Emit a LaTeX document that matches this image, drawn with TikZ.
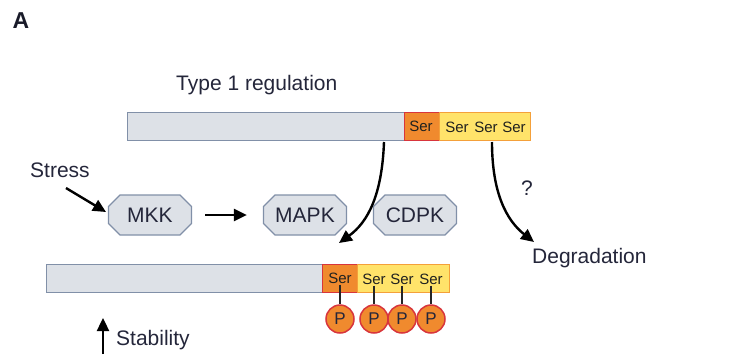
\documentclass[tikz,border=0pt]{standalone}
\usepackage{fontspec}
\setmainfont{Liberation Sans}
\usetikzlibrary{shapes.misc,arrows.meta}
\definecolor{txt}{HTML}{24263A}
\definecolor{gfill}{HTML}{DDE1E7}
\definecolor{gline}{HTML}{8190A8}
\definecolor{ofill}{HTML}{F08A2E}
\definecolor{oline}{HTML}{D8353C}
\definecolor{yfill}{HTML}{FFE36A}
\definecolor{yline}{HTML}{F4A03A}
\tikzset{
  lbl/.style={font=\fontsize{21}{24}\selectfont, text=txt, inner sep=0pt},
  greybar/.style={draw=gline, fill=gfill, line width=1.2pt, anchor=north west, inner sep=0pt, minimum height=28pt},
  orangebar/.style={draw=oline, fill=ofill, line width=1.2pt, anchor=north west, inner sep=0pt, minimum height=28pt, minimum width=35pt},
  yellowbar/.style={draw=yline, fill=yfill, line width=1.2pt, anchor=north west, inner sep=0pt, minimum height=28pt},
  ser/.style={font=\fontsize{15}{16}\selectfont, text=txt!60!black!90!olive, inner sep=1pt},
  kin/.style={chamfered rectangle, chamfered rectangle xsep=8pt, draw=gline, fill=gfill, line width=1.2pt,
              minimum width=83pt, minimum height=40pt, inner sep=2pt, font=\fontsize{21}{24}\selectfont, text=txt},
  pcirc/.style={circle, draw=oline, fill=ofill, line width=1.5pt, minimum size=28pt, inner sep=0pt,
                font=\fontsize{17}{18}\selectfont, text=txt},
  arr/.style={line width=2.4pt, -{Triangle[length=13pt,width=12pt]}},
}
\begin{document}
\begin{tikzpicture}[x=1pt,y=-1pt]
\useasboundingbox (0,0) rectangle (740,360);
\node[font=\bfseries\fontsize{23}{26}\selectfont, text=txt!70!black, inner sep=0pt] (A) at (21,21) {A};
\node[lbl, anchor=west] (t1) at (176,85) {Type 1 regulation};
% top bar
\node[greybar, minimum width=277pt] (g1) at (127,112) {};
\node[orangebar] (o1) at (404,112) {};
\node[yellowbar, minimum width=91pt] (y1) at (439,112) {};
\node[ser] (ts0) at (421,126) {Ser};
\node[ser] (ts1) at (457,127) {Ser};
\node[ser] (ts2) at (486,127) {Ser};
\node[ser] (ts3) at (514,127) {Ser};
% bottom bar
\node[greybar, minimum width=277pt] (g2) at (46,264) {};
\node[orangebar] (o2) at (322,264) {};
\node[yellowbar, minimum width=92pt] (y2) at (357,264) {};
\node[ser] (bs0) at (340,278) {Ser};
\node[ser] (bs1) at (374,279) {Ser};
\node[ser] (bs2) at (402,279) {Ser};
\node[ser] (bs3) at (431,279) {Ser};
\node[pcirc] (p0) at (340,319) {P};
\node[pcirc] (p1) at (374,319) {P};
\node[pcirc] (p2) at (402,319) {P};
\node[pcirc] (p3) at (431,319) {P};
\foreach \i in {0,1,2,3} \draw[line width=1.4pt, black!85] (bs\i.south) -- (p\i.north);
% kinases
\node[kin] (mkk) at (150,215) {MKK};
\node[kin] (mapk) at (305,215) {MAPK};
\node[kin] (cdpk) at (415,215) {CDPK};
\path (mkk.east) ++(13,0) coordinate (m1) (mapk.west) ++(-16,0) coordinate (m2);
\draw[arr] (m1) -- (m2);
\node[lbl, anchor=west] (stress) at (30,170) {Stress};
\coordinate (s1) at (66,188);
\coordinate (s2) at (106,212);
\draw[arr] (s1) -- (s2);
% curved arrows
\coordinate (c1) at (384,142);
\coordinate (c2) at (339,243);
\draw[arr] (c1) .. controls (382,195) and (368,222) .. (c2);
\coordinate (d1) at (492,142);
\coordinate (d2) at (534,242);
\draw[arr] (d1) .. controls (492,192) and (506,220) .. (d2);
\node[lbl] (q) at (527,188) {?};
\node[lbl, anchor=west] (deg) at (532,258) {Degradation};
% stability
\node[lbl, anchor=west] (stab) at (116,340) {Stability};
\coordinate (u1) at (103,354);
\coordinate (u2) at (103,318);
\draw[arr] (u1) -- (u2);
\end{tikzpicture}
\end{document}
